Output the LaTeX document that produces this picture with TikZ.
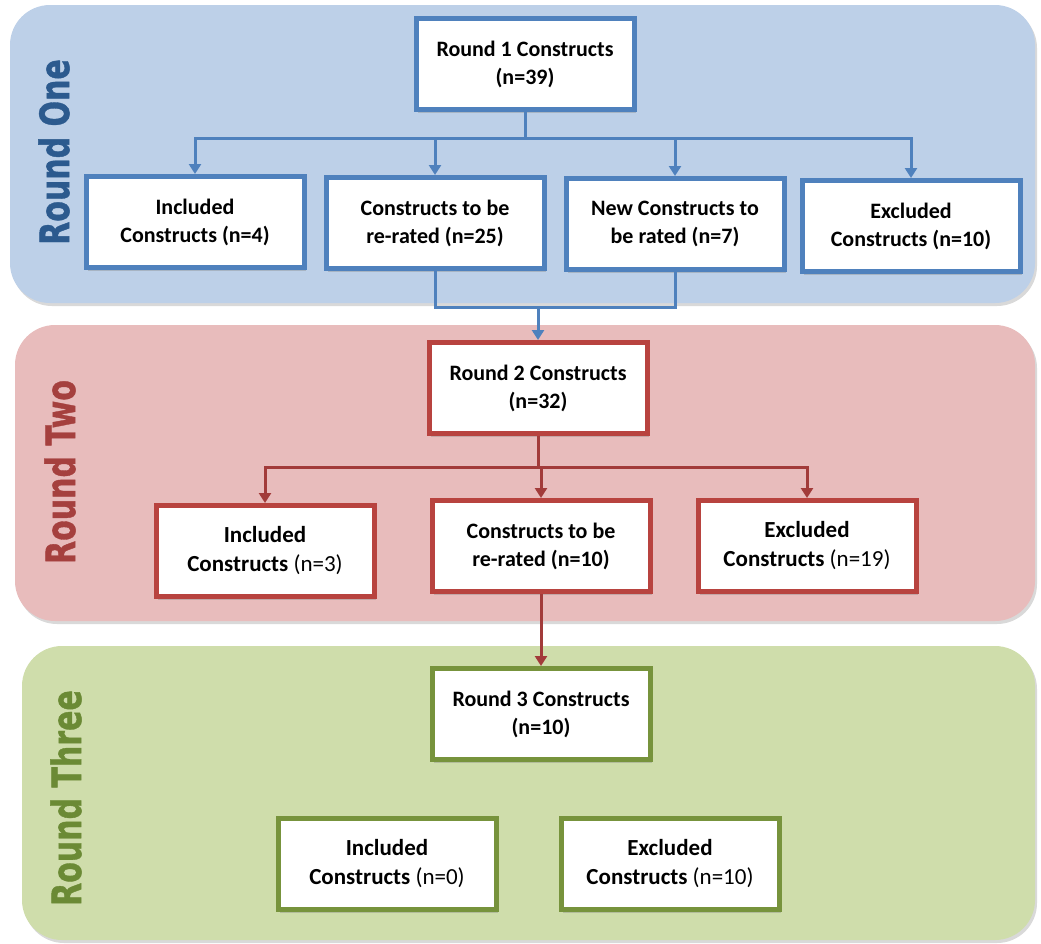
\documentclass[tikz,border=0pt]{standalone}
\usepackage{fontspec}
\setmainfont{Carlito}
\newfontfamily\roundfont[BoldFeatures={FakeBold=1.2}]{DejaVu Sans}
\usepackage{graphicx}
\usepackage{tikz}
\usetikzlibrary{arrows.meta, shadows}

\definecolor{bluepanel}{HTML}{BDD0E8}
\definecolor{redpanel}{HTML}{E8BCBC}
\definecolor{greenpanel}{HTML}{CFDDAB}
\definecolor{blueline}{HTML}{4F81BD}
\definecolor{redline}{HTML}{B8433F}
\definecolor{redarrow}{HTML}{A23B3A}
\definecolor{greenline}{HTML}{77933C}
\definecolor{bluetext}{HTML}{2C5A8E}
\definecolor{redtext}{HTML}{A5403E}
\definecolor{greentext}{HTML}{6B8A35}

\tikzset{
  panel/.style={rounded corners=40pt, drop shadow={shadow xshift=2pt, shadow yshift=-3pt, opacity=0.3}},
  cbox/.style={draw, fill=white, line width=5pt, minimum width=218pt, minimum height=91pt, inner sep=2pt, align=center, drop shadow={shadow xshift=2pt, shadow yshift=-3pt, opacity=0.35}},
  smallbox/.style={cbox, font=\bfseries\fontsize{22}{28}\selectfont},
  bigbox/.style={cbox, font=\fontsize{23}{29}\selectfont},
  roundlabel/.style={rotate=90, font=\roundfont\bfseries\fontsize{30}{30}\selectfont},
  barrow/.style={draw=blueline, line width=3pt, -{Triangle[width=12pt, length=10pt]}},
  bline/.style={draw=blueline, line width=3pt},
  rarrow/.style={draw=redarrow, line width=3pt, -{Triangle[width=12pt, length=10pt]}}
}

\begin{document}
\begin{tikzpicture}[x=1pt, y=-1pt]
\useasboundingbox (0,0) rectangle (1041,943);

\fill[bluepanel, panel] (10,5) rectangle (1035,303);
\fill[redpanel, panel] (15,325) rectangle (1035,621);
\fill[greenpanel, panel] (22,646) rectangle (1035,940);

\node[roundlabel, text=bluetext] (lab1) at (54,152) {\scalebox{1}[1.35]{Round One}};
\node[roundlabel, text=redtext] (lab2) at (60,472) {\scalebox{1}[1.35]{Round Two}};
\node[roundlabel, text=greentext] (lab3) at (66,798) {\scalebox{1}[1.35]{Round Three}};

\node[smallbox, draw=blueline] (r1) at (525,64) {Round 1 Constructs\\(n=39)};
\node[smallbox, draw=blueline] (inc1) at (195,222) {Included\\Constructs (n=4)};
\node[smallbox, draw=blueline] (rr1) at (435,223) {Constructs to be\\re-rated (n=25)};
\node[smallbox, draw=blueline] (new1) at (675,224) {New Constructs to\\be rated (n=7)};
\node[smallbox, draw=blueline] (exc1) at (911,226) {Excluded\\Constructs (n=10)};

\coordinate (bus1) at (525,138);
\coordinate (merge1) at (538,307);

\draw[barrow] (r1.south) -- (bus1) -| (inc1.north);
\draw[barrow] (bus1) -| (rr1.north);
\draw[barrow] (bus1) -| (new1.north);
\draw[barrow] (bus1) -| (exc1.north);
\draw[bline] (rr1.south) |- (merge1) -| (new1.south);

\node[smallbox, draw=redline] (r2) at (538,388) {Round 2 Constructs\\(n=32)};
\node[bigbox, draw=redline] (inc2) at (265,551) {\textbf{Included}\\\textbf{Constructs} (n=3)};
\node[smallbox, draw=redline] (rr2) at (541,546) {Constructs to be\\re-rated (n=10)};
\node[bigbox, draw=redline] (exc2) at (807,546) {\textbf{Excluded}\\\textbf{Constructs} (n=19)};

\draw[barrow] (merge1) -- (r2.north);

\coordinate (bus2) at (538,467);

\draw[rarrow] (r2.south) -- (bus2) -| (inc2.north);
\draw[rarrow] (bus2) -| (rr2.north);
\draw[rarrow] (bus2) -| (exc2.north);

\node[smallbox, draw=greenline] (r3) at (541,714) {Round 3 Constructs\\(n=10)};
\node[bigbox, draw=greenline] (inc3) at (387,864) {\textbf{Included}\\\textbf{Constructs} (n=0)};
\node[bigbox, draw=greenline] (exc3) at (670,864) {\textbf{Excluded}\\\textbf{Constructs} (n=10)};

\draw[rarrow] (rr2.south) -- (r3.north);
\end{tikzpicture}
\end{document}
